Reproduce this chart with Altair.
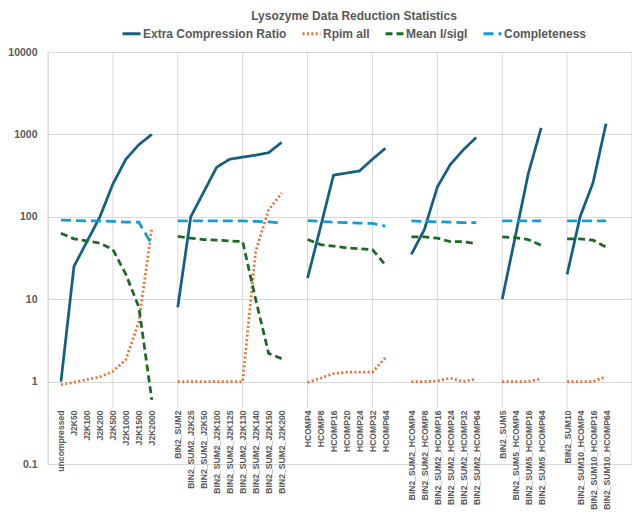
import altair as alt
import pandas as pd

# ---- data (46 category slots, blanks separate the groups) ----
categories = [
    "",
    "uncompressed", "J2K50", "J2K100", "J2K200", "J2K500", "J2K1000", "J2K1500", "J2K2000",
    "",
    "BIN2_SUM2", "BIN2_SUM2_J2K25", "BIN2_SUM2_J2K50", "BIN2_SUM2_J2K100", "BIN2_SUM2_J2K125",
    "BIN2_SUM2_J2K130", "BIN2_SUM2_J2K140", "BIN2_SUM2_J2K150", "BIN2_SUM2_J2K200",
    "",
    "HCOMP4", "HCOMP8", "HCOMP16", "HCOMP20", "HCOMP24", "HCOMP32", "HCOMP64",
    "",
    "BIN2_SUM2_HCOMP4", "BIN2_SUM2_HCOMP8", "BIN2_SUM2_HCOMP16", "BIN2_SUM2_HCOMP24",
    "BIN2_SUM2_HCOMP32", "BIN2_SUM2_HCOMP64",
    "",
    "BIN2_SUM5", "BIN2_SUM5_HCOMP4", "BIN2_SUM5_HCOMP16", "BIN2_SUM5_HCOMP64",
    "",
    "BIN2_SUM10", "BIN2_SUM10_HCOMP4", "BIN2_SUM10_HCOMP16", "BIN2_SUM10_HCOMP64",
    "", "",
]

N = None
extra_compression = [
    N, 1, 25, 50, 100, 250, 500, 750, 1000,
    N, 8, 100, 200, 400, 500, 530, 560, 600, 800,
    N, 18, 75, 320, 340, 360, 500, 680,
    N, 35, 70, 230, 430, 650, 920,
    N, 10, 57, 330, 1200,
    N, 20, 100, 260, 1350,
    N, N,
]
rpim_all = [
    N, 0.92, 0.98, 1.06, 1.14, 1.33, 1.85, 5.3, 73,
    N, 1.0, 1.0, 1.0, 1.0, 1.0, 1.0, 38, 121, 194,
    N, 0.98, 1.1, 1.25, 1.3, 1.3, 1.3, 1.95,
    N, 1.0, 1.0, 1.02, 1.1, 1.0, 1.08,
    N, 1.0, 1.0, 1.0, 1.08,
    N, 1.0, 1.0, 1.0, 1.15,
    N, N,
]
mean_i_sigi = [
    N, 63, 54, 51, 48, 40, 20, 8, 0.6,
    N, 58, 55, 53, 52, 51, 50, 10, 2.2, 1.9,
    N, 53, 46, 44, 42, 41, 40, 26,
    N, 57, 57, 55, 50, 50, 47,
    N, 57, 56, 53, 45,
    N, 54, 54, 52, 43,
    N, N,
]
completeness = [
    N, 91, 90, 89, 89, 88, 86, 86, 46,
    N, 89, 89, 89, 89, 89, 89, 88, 87, 84,
    N, 90, 88, 86, 85, 84, 83, 77,
    N, 89, 88, 87, 86, 85, 85,
    N, 89, 89, 89, 89,
    N, 89, 89, 89, 89,
    N, N,
]

series_names = ["Extra Compression Ratio", "Rpim all", "Mean I/sigI", "Completeness"]
series_values = [extra_compression, rpim_all, mean_i_sigi, completeness]
series_colors = ["#156082", "#E97132", "#196B24", "#0F9ED5"]
series_dashes = [[1, 0], [2, 2.4], [7, 4], [10, 5]]
y_ticks = [0.1, 1, 10, 100, 1000, 10000]

# ---- long table ----
rows = []
group = 0
for i, cat in enumerate(categories):
    if cat == "":
        group += 1
        continue
    for name, vals in zip(series_names, series_values):
        v = vals[i]
        if v is not None:
            rows.append({"x": i, "series": name, "value": v, "group": group})
df = pd.DataFrame(rows)
grid_df = pd.DataFrame({"x": list(range(0, len(categories), 5))})

W, H = 584, 412
FONT = "Liberation Sans, Arial, sans-serif"
TXT = "#595959"
GRID = "#D9D9D9"
XMAX = len(categories) - 1

label_positions = [i for i, c in enumerate(categories) if c]
label_expr = "[" + ",".join("'" + c + "'" for c in categories) + "][datum.value]"

xscale = alt.Scale(domain=[0, XMAX], nice=False, zero=False)
yscale = alt.Scale(type="log", domain=[0.1, 10000], nice=False)

xaxis = alt.Axis(
    values=label_positions, labelExpr=label_expr, labelAngle=270,
    grid=False, domain=False, ticks=False, offset=-55, labelPadding=1,
    labelFont=FONT, labelFontSize=8.6, labelFontWeight="bold", labelColor=TXT,
    labelOverlap=False, labelBound=False, labelFlush=False, zindex=1, title=None,
)
yaxis = alt.Axis(
    values=y_ticks, format="~g", grid=True, gridColor=GRID, gridWidth=1,
    domain=False, ticks=False, labelPadding=11,
    labelFont=FONT, labelFontSize=10.5, labelFontWeight="bold", labelColor=TXT,
    title=None,
)

X = alt.X("x:Q", scale=xscale, axis=xaxis, title=None)

vgrid = alt.Chart(grid_df).mark_rule(color=GRID, strokeWidth=1).encode(
    x=X, y=alt.value(0), y2=alt.value(H)
)

mask_top = H * (4 + 0.328) / 5
mask = alt.Chart(grid_df).mark_rect(fill="white", stroke=None).encode(
    x=alt.value(0.4 * W / XMAX), x2=alt.value(43.9 * W / XMAX),
    y=alt.value(mask_top), y2=alt.value(H),
)

legend = alt.Legend(
    title=None, orient="none", legendX=73, legendY=-29, direction="horizontal",
    symbolType="stroke", symbolSize=324, symbolStrokeWidth=3,
    labelFont=FONT, labelFontSize=12, labelFontWeight="bold", labelColor=TXT,
    columnPadding=9, labelOffset=1, labelLimit=300,
)

lines = alt.Chart(df).mark_line(strokeWidth=2.75).encode(
    x=X,
    y=alt.Y("value:Q", scale=yscale, axis=yaxis, title=None),
    color=alt.Color("series:N", scale=alt.Scale(domain=series_names, range=series_colors),
                    legend=legend, title=None),
    strokeDash=alt.StrokeDash("series:N", scale=alt.Scale(domain=series_names, range=series_dashes),
                              legend=legend, title=None),
    detail="group:N",
    order="x:Q",
)

chart = alt.layer(vgrid, mask, lines).properties(
    width=W, height=H,
    title=alt.TitleParams(
        "Lysozyme Data Reduction Statistics", font=FONT, fontSize=12,
        fontWeight="bold", color=TXT, anchor="middle", dx=14, offset=0,
    ),
    autosize=alt.AutoSizeParams(type="none"),
    padding={"left": 40, "top": 44, "right": 0, "bottom": 46},
).configure_view(stroke=None).configure(background="white")

chart.save("out.html", embed_options={"renderer": "svg", "actions": False})
